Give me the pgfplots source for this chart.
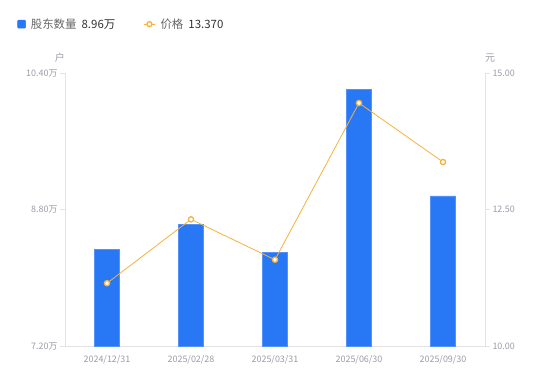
\documentclass[border=0pt]{standalone}
\usepackage{pgfplots}
\pgfplotsset{compat=1.18}
\usepackage{fontspec}
\setmainfont{Noto Sans CJK SC}
\definecolor{barblue}{HTML}{2878F5}
\definecolor{lineorange}{HTML}{F7B13C}
\definecolor{ticktext}{HTML}{9A9CA8}
\definecolor{axisgray}{HTML}{E3E3E6}
\definecolor{legtext}{HTML}{666666}
\definecolor{legval}{HTML}{333333}
\begin{document}
\begin{tikzpicture}
\path[use as bounding box] (0,0) rectangle (550bp,381bp);
\begin{axis}[
  at={(65bp,35bp)}, anchor=south west,
  scale only axis, width=420bp, height=273bp,
  xmin=-0.5, xmax=4.5, ymin=7.2, ymax=10.4,
  axis x line*=bottom, axis y line*=left,
  axis line style={axisgray, line width=0.8bp},
  xtick={0,1,2,3,4},
  xticklabels={2024/12/31,2025/02/28,2025/03/31,2025/06/30,2025/09/30},
  ytick={7.2,8.8,10.4},
  yticklabels={7.20万,8.80万,10.40万},
  tick align=outside, major tick length=5bp,
  major tick style={axisgray, line width=0.8bp},
  major x tick style={draw=none},
  tick label style={font=\fontsize{9}{10}\selectfont, text=ticktext},
  xticklabel style={yshift=-1bp},
  yticklabel style={xshift=1bp},
  ybar, bar width=25bp,
  legend columns=2,
  legend style={at={(axis description cs:-0.114,1.179)}, anchor=west, draw=none, fill=none,
    font=\fontsize{11.5}{13}\selectfont, text=legtext, inner sep=0pt,
    /tikz/every odd column/.append style={column sep=3bp},
    /tikz/every even column/.append style={column sep=26bp}},
  clip=false,
]
\addplot[fill=barblue, draw=barblue!80!white, line width=0.5bp,
  legend image code/.code={\fill[barblue, rounded corners=1bp] (0bp,-4bp) rectangle (8bp,4bp);}]
  coordinates {(0,8.33) (1,8.63) (2,8.30) (3,10.21) (4,8.96)};
\addlegendentry{股东数量\hspace{5bp}\textcolor{legval}{8.96万}}
\addlegendimage{legend image code/.code={
  \draw[lineorange, line width=1.2bp] (0bp,0bp) -- (11bp,0bp);
  \draw[lineorange, fill=white, line width=1.3bp] (5.5bp,0bp) circle (2.5bp);}}
\addlegendentry{价格\hspace{5bp}\textcolor{legval}{13.370}}
\node[text=ticktext, font=\fontsize{10}{12}\selectfont] at (axis description cs:-0.012,1.056) {户};
\node[text=ticktext, font=\fontsize{10}{12}\selectfont] at (axis description cs:1.012,1.056) {元};
\end{axis}
\begin{axis}[
  at={(65bp,35bp)}, anchor=south west,
  scale only axis, width=420bp, height=273bp,
  xmin=-0.5, xmax=4.5, ymin=10, ymax=15,
  axis x line=none, axis y line*=right,
  axis line style={axisgray, line width=0.8bp},
  ytick={10,12.5,15},
  yticklabels={10.00,12.50,15.00},
  tick align=outside, major tick length=5bp,
  major tick style={axisgray, line width=0.8bp},
  tick label style={font=\fontsize{9}{10}\selectfont, text=ticktext},
  yticklabel style={xshift=-1bp},
  clip=false,
]
\addplot[lineorange, line width=0.8bp, mark=*, mark size=2.6bp,
  mark options={fill=white, draw=lineorange, line width=1.3bp}]
  coordinates {(0,11.15) (1,12.32) (2,11.58) (3,14.45) (4,13.37)};
\end{axis}
\end{tikzpicture}
\end{document}
